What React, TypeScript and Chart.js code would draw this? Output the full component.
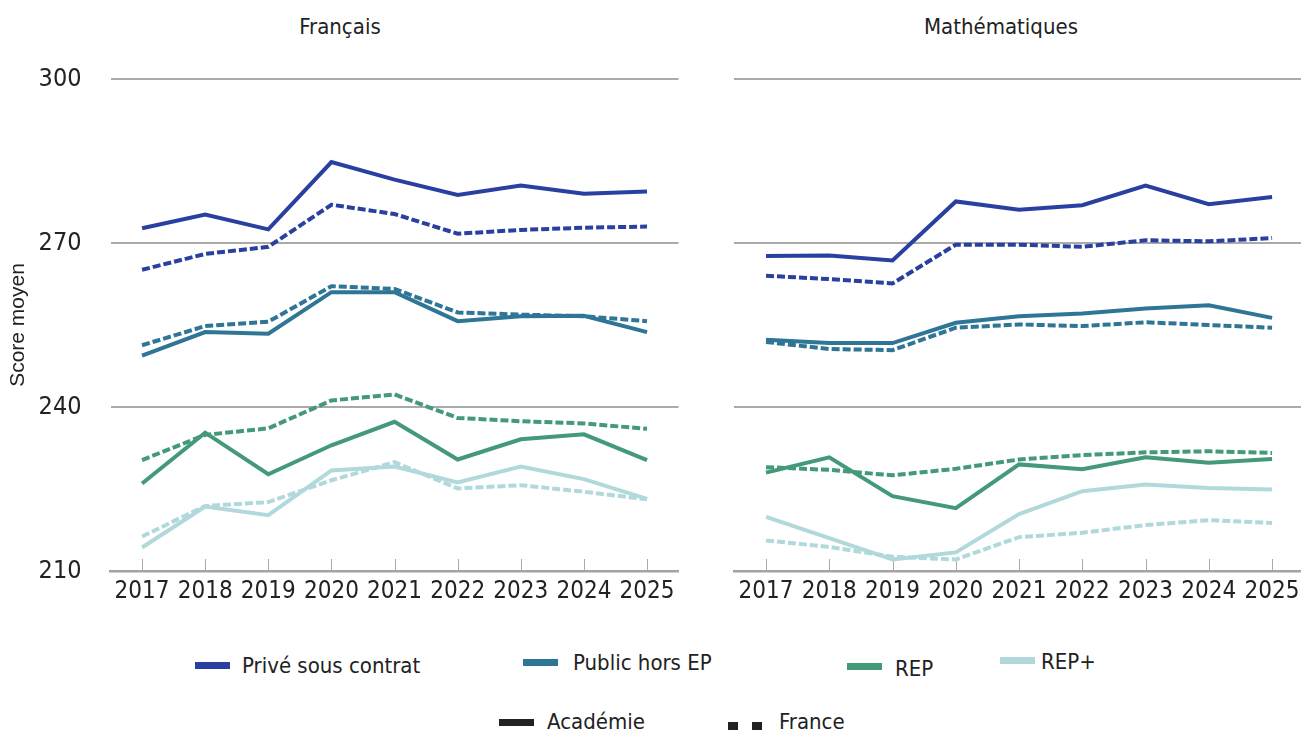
import React, { useEffect, useRef } from "react";
import { Chart, registerables } from "chart.js";

Chart.register(...registerables);

const years = ["2017", "2018", "2019", "2020", "2021", "2022", "2023", "2024", "2025"];
const yTicks = [210, 240, 270, 300];

// Français
const frPriveAcad = [272.7, 275.2, 272.5, 284.8, 281.6, 278.8, 280.5, 279.0, 279.4];
const frPriveFrance = [265.1, 268.0, 269.3, 277.0, 275.3, 271.7, 272.4, 272.8, 273.0];
const frPublicAcad = [249.4, 253.7, 253.4, 261.0, 261.0, 255.7, 256.6, 256.7, 253.7];
const frPublicFrance = [251.3, 254.8, 255.6, 262.1, 261.6, 257.3, 256.9, 256.6, 255.7];
const frRepAcad = [226.0, 235.3, 227.7, 233.0, 237.3, 230.4, 234.1, 235.0, 230.3];
const frRepFrance = [230.3, 234.9, 236.1, 241.2, 242.3, 238.0, 237.4, 237.0, 236.0];
const frRepPlusAcad = [214.3, 221.8, 220.2, 228.4, 229.1, 226.2, 229.1, 226.8, 223.2];
const frRepPlusFrance = [216.3, 221.9, 222.6, 226.6, 229.9, 225.1, 225.7, 224.5, 223.1];

// Mathématiques
const maPriveAcad = [267.6, 267.7, 266.8, 277.6, 276.1, 276.9, 280.5, 277.1, 278.4];
const maPriveFrance = [264.0, 263.4, 262.6, 269.7, 269.7, 269.3, 270.5, 270.3, 270.9];
const maPublicAcad = [252.3, 251.7, 251.7, 255.4, 256.6, 257.1, 258.0, 258.6, 256.3];
const maPublicFrance = [251.9, 250.6, 250.4, 254.5, 255.1, 254.8, 255.5, 255.0, 254.5];
const maRepAcad = [228.0, 230.8, 223.7, 221.5, 229.5, 228.6, 230.8, 229.8, 230.5];
const maRepFrance = [229.0, 228.5, 227.5, 228.7, 230.4, 231.2, 231.7, 231.9, 231.6];
const maRepPlusAcad = [219.9, 216.0, 212.1, 213.4, 220.4, 224.6, 225.8, 225.2, 224.9];
const maRepPlusFrance = [215.6, 214.4, 212.6, 212.1, 216.2, 217.0, 218.4, 219.3, 218.8];

const C_PRIVE = "#2a40a0";
const C_PUBLIC = "#2e7596";
const C_REP = "#449979";
const C_REPPLUS = "#b1d9dc";

const NARROW = "'Liberation Sans Narrow', 'DejaVu Sans Condensed', 'Roboto Condensed', sans-serif";
const TEXT = "#222222";

type Panel = {
  acad: number[][];
  france: number[][];
};

const colors = [C_PRIVE, C_PUBLIC, C_REP, C_REPPLUS];
const names = ["Privé sous contrat", "Public hors EP", "REP", "REP+"];

const CANVAS_H = 630;
const CHART_BOTTOM = 571;

const tickMarks = {
  id: "tickMarks",
  beforeDatasetsDraw(chart: any) {
    const xs = chart.scales.x;
    const bottom = chart.chartArea.bottom;
    const ctx = chart.ctx;
    ctx.save();
    ctx.strokeStyle = "#aaaaaa";
    ctx.lineWidth = 1;
    xs.ticks.forEach((_t: any, i: number) => {
      const px = Math.round(xs.getPixelForTick(i)) + 0.5;
      ctx.beginPath();
      ctx.moveTo(px, bottom);
      ctx.lineTo(px, bottom - 12);
      ctx.stroke();
    });
    ctx.restore();
  },
};

function buildConfig(panel: Panel, showY: boolean, yWidth: number, rightPad: number): any {
  const datasets: any[] = [];
  for (let i = 0; i < 4; i++) {
    datasets.push({
      label: names[i] + " France",
      data: panel.france[i],
      borderColor: colors[i],
      borderWidth: 4,
      borderDash: [8, 3],
      pointRadius: 0,
      tension: 0,
      fill: false,
    });
    datasets.push({
      label: names[i] + " Académie",
      data: panel.acad[i],
      borderColor: colors[i],
      borderWidth: 4,
      pointRadius: 0,
      tension: 0,
      fill: false,
    });
  }
  return {
    type: "line",
    data: { labels: years, datasets },
    options: {
      animation: false,
      responsive: false,
      maintainAspectRatio: false,
      layout: { padding: { top: 79, left: 0, right: rightPad, bottom: 0 } },
      plugins: { legend: { display: false }, tooltip: { enabled: false }, title: { display: false } },
      scales: {
        x: {
          offset: true,
          grid: { display: false, drawTicks: false },
          border: { display: true, color: "#a3a3a3", width: 2.5 },
          ticks: { color: TEXT, font: { family: NARROW, size: 24 }, padding: 6, maxRotation: 0, autoSkip: false },
          afterFit: (s: any) => {
            s.height = CANVAS_H - CHART_BOTTOM;
          },
        },
        y: {
          min: 210,
          max: 300,
          afterBuildTicks: (s: any) => {
            s.ticks = yTicks.map((v) => ({ value: v }));
          },
          grid: { color: "#aaaaaa", lineWidth: 2, drawTicks: false },
          border: { display: false },
          ticks: { display: showY, color: TEXT, font: { family: NARROW, size: 25 }, padding: 29 },
          title: {
            display: showY,
            text: "Score moyen",
            color: TEXT,
            font: { family: "'Liberation Sans', Arial, sans-serif", size: 21 },
            padding: { top: 6, bottom: 0 },
          },
          afterFit: (s: any) => {
            s.width = yWidth;
          },
        },
      },
    },
    plugins: [tickMarks],
  };
}

const frPanel: Panel = {
  acad: [frPriveAcad, frPublicAcad, frRepAcad, frRepPlusAcad],
  france: [frPriveFrance, frPublicFrance, frRepFrance, frRepPlusFrance],
};
const maPanel: Panel = {
  acad: [maPriveAcad, maPublicAcad, maRepAcad, maRepPlusAcad],
  france: [maPriveFrance, maPublicFrance, maRepFrance, maRepPlusFrance],
};

function LegendText(props: { x: number; cy: number; text: string }) {
  return (
    <div
      style={{
        position: "absolute",
        left: props.x,
        top: props.cy - 13,
        height: 26,
        lineHeight: "26px",
        fontFamily: NARROW,
        fontSize: 22,
        color: TEXT,
        whiteSpace: "nowrap",
      }}
    >
      {props.text}
    </div>
  );
}

function Swatch(props: { x: number; y: number; w: number; h: number; color: string }) {
  return (
    <div
      style={{
        position: "absolute",
        left: props.x,
        top: props.y,
        width: props.w,
        height: props.h,
        background: props.color,
      }}
    />
  );
}

export default function App() {
  const leftRef = useRef<HTMLCanvasElement | null>(null);
  const rightRef = useRef<HTMLCanvasElement | null>(null);

  useEffect(() => {
    const c1 = new Chart(leftRef.current as HTMLCanvasElement, buildConfig(frPanel, true, 110.5, 11.4));
    const c2 = new Chart(rightRef.current as HTMLCanvasElement, buildConfig(maPanel, false, 44.4, 6.3));
    return () => {
      c1.destroy();
      c2.destroy();
    };
  }, []);

  const titleStyle: React.CSSProperties = {
    position: "absolute",
    top: 13,
    height: 28,
    lineHeight: "28px",
    fontFamily: NARROW,
    fontSize: 22,
    color: TEXT,
    textAlign: "center",
    width: 300,
  };

  return (
    <div
      style={{
        position: "fixed",
        left: 0,
        top: 0,
        width: 1301,
        height: 731,
        overflow: "hidden",
        background: "#ffffff",
      }}
    >
      <div style={{ ...titleStyle, left: 340 - 150 }}>Français</div>
      <div style={{ ...titleStyle, left: 1001 - 150 }}>Mathématiques</div>
      <canvas
        ref={leftRef}
        width={690}
        height={CANVAS_H}
        style={{ position: "absolute", left: 0, top: 0, width: 690, height: CANVAS_H }}
      />
      <canvas
        ref={rightRef}
        width={620}
        height={CANVAS_H}
        style={{ position: "absolute", left: 690, top: 0, width: 620, height: CANVAS_H }}
      />
      <Swatch x={195} y={662} w={35} h={7} color={C_PRIVE} />
      <LegendText x={242} cy={666} text="Privé sous contrat" />
      <Swatch x={523} y={659} w={35} h={7} color={C_PUBLIC} />
      <LegendText x={573} cy={663} text="Public hors EP" />
      <Swatch x={847} y={663} w={35} h={7} color={C_REP} />
      <LegendText x={895} cy={669} text="REP" />
      <Swatch x={1000} y={657} w={35} h={7} color={C_REPPLUS} />
      <LegendText x={1041} cy={662} text="REP+" />
      <Swatch x={499} y={719} w={35} h={7} color={TEXT} />
      <LegendText x={547} cy={722} text="Académie" />
      <Swatch x={728} y={722} w={10} h={8} color={TEXT} />
      <Swatch x={752} y={722} w={10} h={8} color={TEXT} />
      <LegendText x={779} cy={722} text="France" />
    </div>
  );
}
